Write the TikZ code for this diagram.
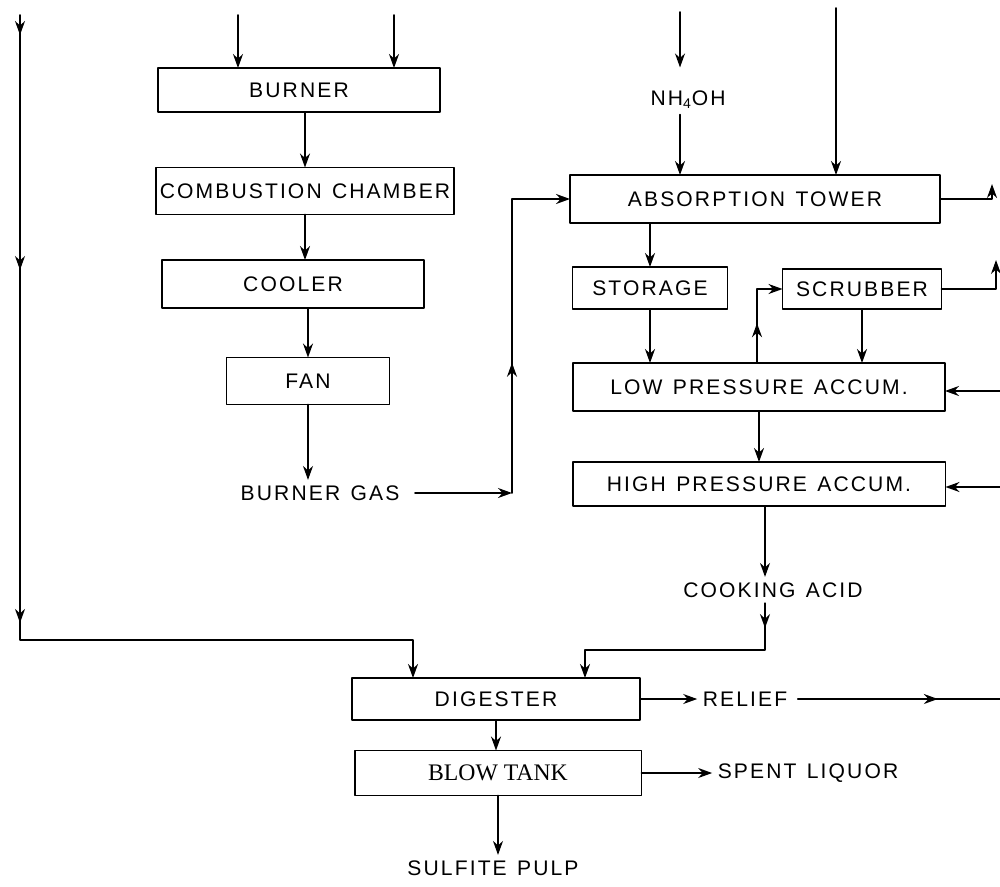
\documentclass[tikz,border=0pt]{standalone}
\usepackage{fontspec}
\setmainfont{Liberation Sans}
\newfontfamily\lettering[LetterSpace=10,WordSpace=1.3]{Liberation Sans}
\newfontfamily\blowfont{Liberation Serif}
\usepackage{tikz}
\usetikzlibrary{arrows.meta,positioning,calc,decorations.markings}
\tikzset{
    every picture/.style={line cap=round,line join=round},
    procbox/.style={draw=black,line width=1.1pt,inner sep=2pt,outer sep=0pt,
      minimum height=0.92cm,font=\lettering\fontsize{12}{14}\selectfont,align=center},
    streamlabel/.style={inner sep=3pt,font=\lettering\fontsize{12}{14}\selectfont},
    flowarrow/.style={-{Stealth[length=2.8mm,width=2mm]},draw=black,line width=0.9pt},
    flowline/.style={draw=black,line width=0.9pt},
    midarrow/.style={postaction={decorate,decoration={markings,
      mark=at position #1 with {\arrow{Stealth[length=2.8mm,width=2mm]}}}}}
}
\begin{document}
\begin{tikzpicture}[x=0.02cm,y=-0.02cm]
  \useasboundingbox (0,0) rectangle (1000,886);

  % burner gas train
  \node[procbox,minimum width=5.64cm,minimum height=0.88cm] (burner) at (299,90) {BURNER};
  \node[procbox,minimum width=5.92cm,minimum height=0.94cm] (comb) at (305,191) {COMBUSTION CHAMBER};
  \node[procbox,minimum width=5.24cm,minimum height=0.96cm] (cooler) at (293,284) {COOLER};
  \node[procbox,minimum width=3.26cm,minimum height=0.94cm] (fan) at (308,381) {FAN};
  \node[streamlabel] (gas) at (320,493) {BURNER GAS};

  % acid plant
  \node[streamlabel] (nh) at (688,100) {NH\textsubscript{4}OH};
  \node[procbox,minimum width=7.4cm,minimum height=0.96cm] (tower) at (755,199) {ABSORPTION TOWER};
  \node[procbox,minimum width=3.1cm,minimum height=0.84cm] (storage) at (650,288) {STORAGE};
  \node[procbox,minimum width=3.18cm,minimum height=0.8cm] (scrubber) at (862,289) {SCRUBBER};
  \node[procbox,minimum width=7.44cm,minimum height=0.96cm] (lowacc) at (759,387) {LOW PRESSURE ACCUM.};
  \node[procbox,minimum width=7.46cm,minimum height=0.88cm] (highacc) at (759,484) {HIGH PRESSURE ACCUM.};
  \node[streamlabel] (acid) at (773,590) {COOKING ACID};

  % pulping
  \node[procbox,minimum width=5.76cm,minimum height=0.84cm] (digester) at (496,699) {DIGESTER};
  \node[procbox,minimum width=5.74cm,minimum height=0.9cm,
        font=\blowfont\fontsize{13.5}{15}\selectfont] (blowtank) at (498,773) {BLOW TANK};
  \node[streamlabel] (relief) at (745,699) {RELIEF};
  \node[streamlabel] (spent) at (808,773) {SPENT LIQUOR};
  \node[streamlabel] (pulp) at (493,868) {SULFITE PULP};

  % free ends and bends
  \coordinate (woodtop) at (20,15);
  \coordinate (woodturn) at (20,640);
  \coordinate (woodin) at (413,640);
  \coordinate (burnin1) at (238,15);
  \coordinate (burnin2) at (394,15);
  \coordinate (nhin) at (680,12);
  \coordinate (waterin) at (836,8);
  \coordinate (gasturn) at (512,493);
  \coordinate (towerout) at (992,184);
  \coordinate (scrubout) at (996,260);
  \coordinate (loopturn) at (757,289);
  \coordinate (lowin) at (1000,391);
  \coordinate (highin) at (1000,487);
  \coordinate (acidturn) at (765,650);
  \coordinate (acidin) at (585,650);
  \coordinate (reliefout) at (1000,699);

  % burner gas train
  \draw[flowarrow] (burnin1) -- (burnin1 |- burner.north);
  \draw[flowarrow] (burnin2) -- (burnin2 |- burner.north);
  \draw[flowarrow] (burner.south -| comb.north) -- (comb.north);
  \draw[flowarrow] (comb.south) -- (comb.south |- cooler.north);
  \draw[flowarrow] (fan.north |- cooler.south) -- (fan.north);
  \draw[flowarrow] (fan.south) -- (fan.south |- gas.north);
  \draw[flowarrow,shorten <=2mm] (gas.east) -- (gasturn);
  \draw[flowarrow,midarrow=0.37] (gasturn) -- (gasturn |- tower.west) -- (tower.west);

  % acid plant
  \draw[flowarrow,shorten >=3.6mm] (nhin) -- (nhin |- nh.north);
  \draw[flowarrow] (nhin |- nh.south) -- (nhin |- tower.north);
  \draw[flowarrow] (waterin) -- (waterin |- tower.north);
  \draw[flowarrow] (tower.east) -- (towerout |- tower.east) -- (towerout);
  \draw[flowarrow] (storage.north |- tower.south) -- (storage.north);
  \draw[flowarrow] (scrubber.east) -- (scrubout |- scrubber.east) -- (scrubout);
  \draw[flowarrow] (storage.south) -- (storage.south |- lowacc.north);
  \draw[flowarrow] (scrubber.south) -- (scrubber.south |- lowacc.north);
  \draw[flowarrow,midarrow=0.4] (loopturn |- lowacc.north) -- (loopturn) -- (scrubber.west);
  \draw[flowarrow] (lowacc.south) -- (highacc.north);
  \draw[flowarrow] (lowin) -- (lowin -| lowacc.east);
  \draw[flowarrow] (highin) -- (highin -| highacc.east);
  \draw[flowarrow] (highacc.south -| acidturn) -- (acidturn |- acid.north);

  % pulping
  \draw[flowarrow,midarrow=0.5cm] (acid.south -| acidturn) -- (acidturn) -- (acidin)
    -- (acidin |- digester.north);
  \draw[flowarrow,midarrow=0.4cm,midarrow=5.1cm,midarrow=12.16cm]
    (woodtop) -- (woodturn) -- (woodin) -- (woodin |- digester.north);
  \draw[flowarrow] (digester.east) -- (relief.west);
  \draw[flowline,midarrow=0.7,shorten <=1mm] (relief.east) -- (reliefout);
  \draw[flowarrow] (digester.south) -- (digester.south |- blowtank.north);
  \draw[flowarrow] (blowtank.east) -- (spent.west);
  \draw[flowarrow] (blowtank.south) -- (blowtank.south |- pulp.north);
\end{tikzpicture}
\end{document}
